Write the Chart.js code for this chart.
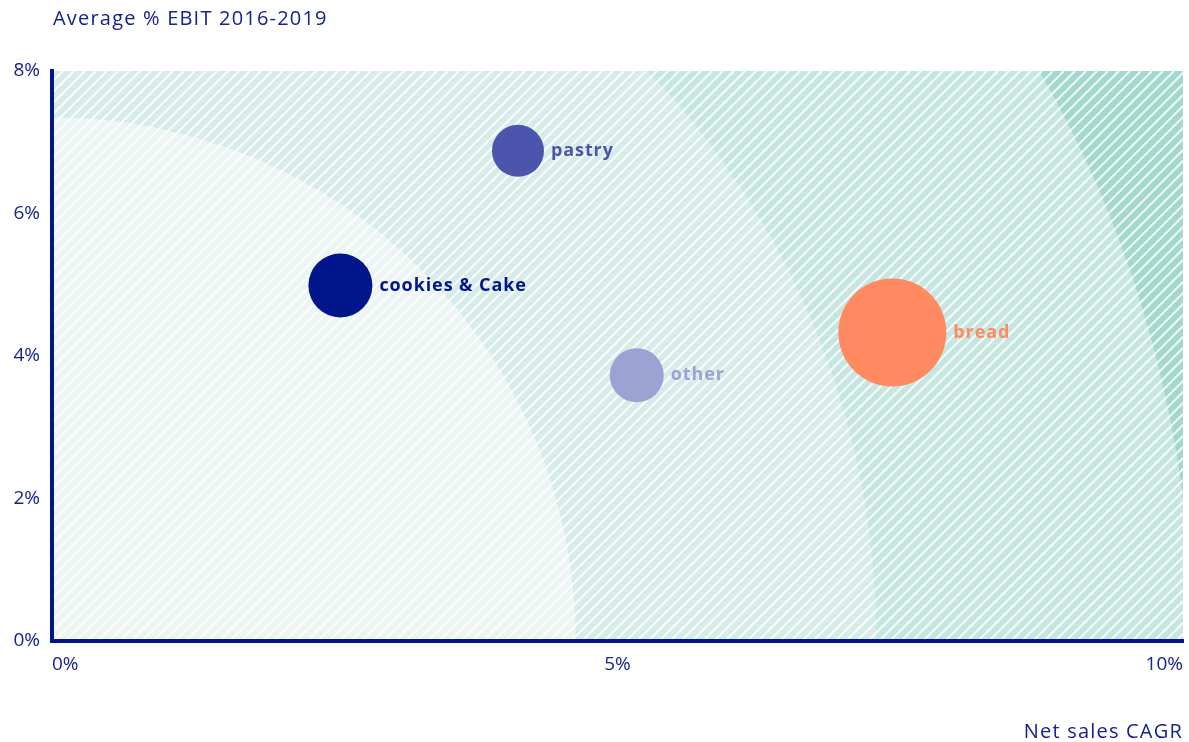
<!DOCTYPE html>
<html lang="en">
  <head>
    <meta charset="UTF-8" />
    <title>EBIT vs net sales CAGR</title>
    <script src="https://cdn.jsdelivr.net/npm/chart.js"></script>
    <style>
      html,
      body {
        margin: 0;
        padding: 0;
        background: #fff;
      }
      #quadro {
        width: 1189px;
        height: 742px;
        position: relative;
      }
    </style>
  </head>
  <body>
    <div id="quadro"><canvas id="grafico"></canvas></div>

    <script>
      // Segments: net sales CAGR (x, %), average EBIT 2016-2019 (y, %), bubble size (px)
      const categorias = ["pastry", "cookies & Cake", "other", "bread"];
      const crescimento = [4.12, 2.55, 5.17, 7.43];
      const ebitMedio = [6.88, 4.99, 3.73, 4.33];
      const tamanho = [26, 32, 27, 54];
      const cores = ["#4b55ae", "#00168a", "#9ba3d3", "#ff8a62"];

      // Axis ranges and steps
      const eixoX = { min: 0, max: 10, passo: 5 };
      const eixoY = { min: 0, max: 8, passo: 2 };

      // Background bands around the origin, radius in CAGR units
      const faixas = [4.63, 7.29, 10.08];
      const coresFaixas = ["#ecf5f4", "#d7ece9", "#c6e6e0", "#a3d8cc"];

      const azul = "#15228f";
      const fonte = "'Open Sans', 'DejaVu Sans', sans-serif";

      // Draws the hatched bands first, so the axis lines stay on top
      const faixasFundo = {
        id: "faixasFundo",
        beforeDraw(chart) {
          const { ctx, chartArea: a, scales } = chart;
          const ox = scales.x.getPixelForValue(0);
          const oy = scales.y.getPixelForValue(0);
          ctx.save();
          ctx.beginPath();
          ctx.rect(a.left, a.top, a.width, a.height);
          ctx.clip();
          ctx.fillStyle = coresFaixas[coresFaixas.length - 1];
          ctx.fillRect(a.left, a.top, a.width, a.height);
          for (let i = faixas.length - 1; i >= 0; i--) {
            const r = scales.x.getPixelForValue(faixas[i]) - ox;
            ctx.fillStyle = coresFaixas[i];
            ctx.beginPath();
            ctx.moveTo(ox, oy);
            ctx.arc(ox, oy, r, 0, Math.PI * 2);
            ctx.fill();
          }
          // diagonal stripes
          ctx.strokeStyle = "rgba(255, 255, 255, 0.8)";
          ctx.lineWidth = 2.2;
          ctx.beginPath();
          for (let s = a.left - a.height; s < a.right; s += 11) {
            ctx.moveTo(s, a.bottom);
            ctx.lineTo(s + a.height, a.top);
          }
          ctx.stroke();
          ctx.restore();
        },
      };

      // Names next to each bubble and the two axis titles
      const rotulos = {
        id: "rotulos",
        afterDatasetsDraw(chart) {
          const { ctx } = chart;
          const pontos = chart.getDatasetMeta(0).data;
          ctx.save();
          ctx.font = "700 18px " + fonte;
          ctx.letterSpacing = "0.9px";
          ctx.textBaseline = "middle";
          ctx.textAlign = "left";
          pontos.forEach((p, i) => {
            ctx.fillStyle = cores[i];
            ctx.fillText(categorias[i], p.x + tamanho[i] + 7, p.y);
          });
          ctx.restore();
        },
        afterDraw(chart) {
          const { ctx, chartArea: a } = chart;
          ctx.save();
          ctx.font = "400 20px " + fonte;
          ctx.letterSpacing = "1.2px";
          ctx.fillStyle = azul;
          ctx.textBaseline = "middle";
          ctx.textAlign = "left";
          ctx.fillText("Average % EBIT 2016-2019", a.left + 1, 19);
          ctx.textAlign = "right";
          ctx.fillText("Net sales CAGR", a.right, 732);
          ctx.restore();
        },
      };

      const ctx = document.getElementById("grafico").getContext("2d");

      new Chart(ctx, {
        type: "bubble",
        data: {
          labels: categorias,
          datasets: [
            {
              label: "Segments",
              data: categorias.map((c, i) => ({
                x: crescimento[i],
                y: ebitMedio[i],
                r: tamanho[i],
              })),
              backgroundColor: cores,
              hoverBackgroundColor: cores,
              borderWidth: 0,
              hoverBorderWidth: 0,
            },
          ],
        },
        options: {
          responsive: true,
          maintainAspectRatio: false,
          animation: false,
          layout: {
            autoPadding: false,
            padding: { top: 71, right: 6, left: 0, bottom: 0 },
          },
          plugins: {
            legend: { display: false },
            tooltip: { enabled: false },
          },
          scales: {
            x: {
              type: "linear",
              min: eixoX.min,
              max: eixoX.max,
              afterFit: (scale) => {
                scale.height = 101;
                scale.paddingLeft = 0;
                scale.paddingRight = 0;
              },
              grid: { display: false, drawTicks: false },
              border: { display: true, color: "#00168a", width: 4 },
              ticks: {
                stepSize: eixoX.passo,
                align: "inner",
                padding: 12,
                color: azul,
                font: { family: fonte, size: 19 },
                callback: (v) => v + "%",
              },
            },
            y: {
              type: "linear",
              min: eixoY.min,
              max: eixoY.max,
              afterFit: (scale) => {
                scale.width = 52;
              },
              grid: { display: false, drawTicks: false },
              border: { display: true, color: "#00168a", width: 4 },
              ticks: {
                stepSize: eixoY.passo,
                padding: 12,
                color: azul,
                font: { family: fonte, size: 19 },
                callback: (v) => v + "%",
              },
            },
          },
        },
        plugins: [faixasFundo, rotulos],
      });
    </script>
  </body>
</html>
